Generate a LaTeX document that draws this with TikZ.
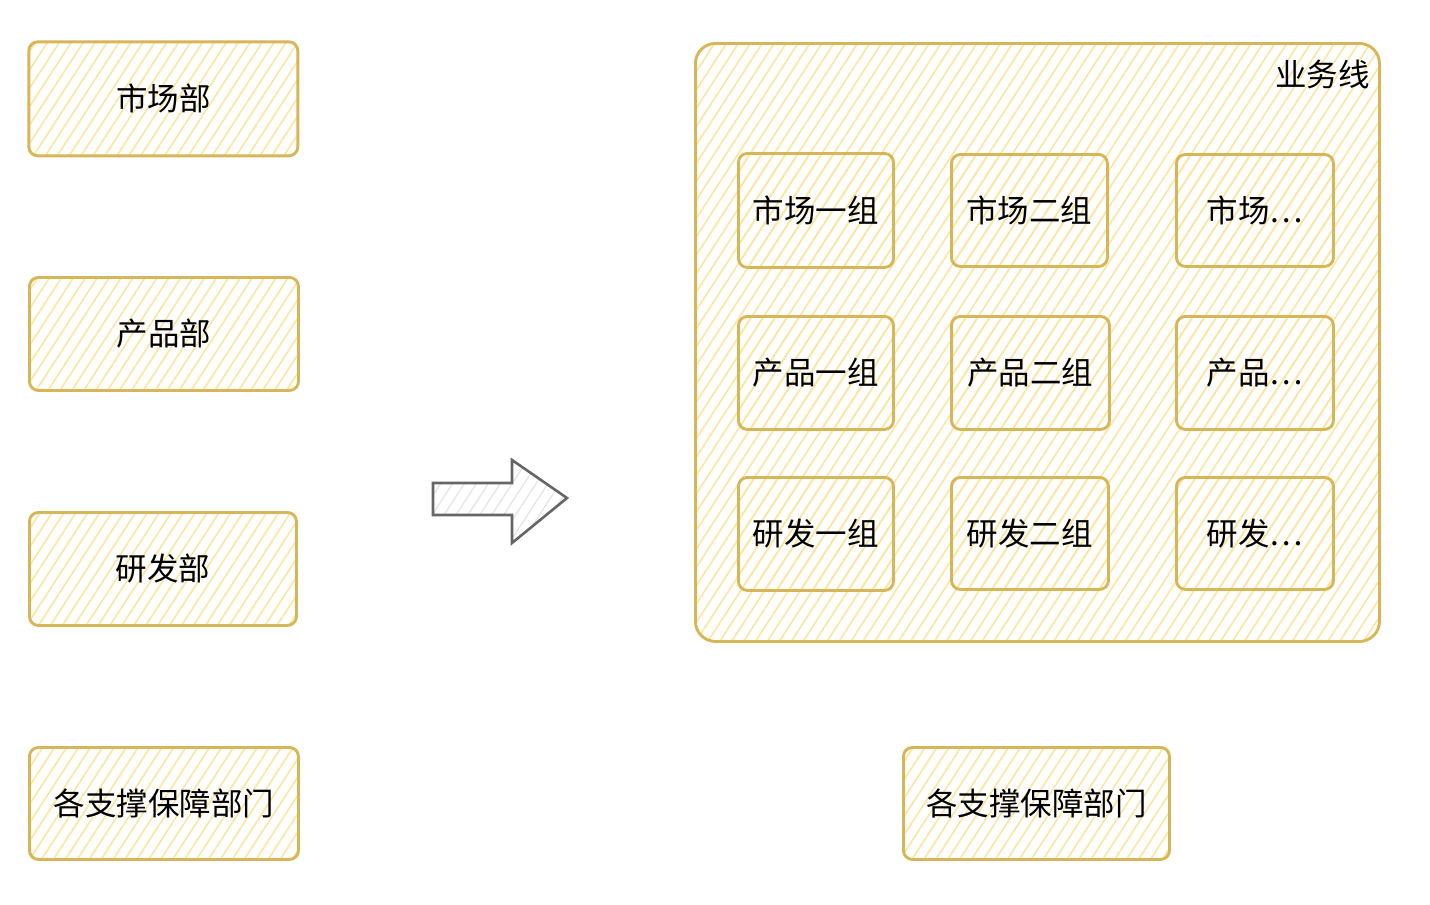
\documentclass[tikz,border=0pt]{standalone}
\usepackage{fontspec}
\setmainfont{Noto Sans CJK SC}
\usetikzlibrary{patterns.meta}
\definecolor{yfill}{HTML}{FFF2CC}
\definecolor{yhatch}{HTML}{FCE5A0}
\definecolor{ystroke}{HTML}{D6B656}
\definecolor{gstroke}{HTML}{666666}
\definecolor{ghatch}{HTML}{E6E6E6}
\tikzset{
  sketchbox/.style={draw=ystroke, line width=2.9pt, rounded corners=9pt,
    pattern={Lines[angle=57,distance=10pt,line width=1.6pt]}, pattern color=yhatch,
    font=\fontsize{31.5}{36}\selectfont, text=black, inner sep=0pt, anchor=north west},
  bigbox/.style={draw=ystroke, line width=2.9pt, rounded corners=20pt,
    pattern={Lines[angle=57,distance=10pt,line width=1.6pt]}, pattern color=yhatch,
    inner sep=0pt, anchor=north west},
  lbl/.style={font=\fontsize{31.5}{36}\selectfont, text=black, inner sep=0pt},
  garrow/.style={draw=gstroke, line width=2.6pt, line join=miter,
    pattern={Lines[angle=57,distance=10pt,line width=1.4pt]}, pattern color=ghatch}
}
\newcommand{\bx}[6]{\node[sketchbox, minimum width=#3pt, minimum height=#4pt] (#5) at (#1,#2) {#6};}
\begin{document}
\begin{tikzpicture}[x=1pt,y=-1pt]
\useasboundingbox (0,0) rectangle (1430,905);
% left column
\bx{28}{41}{269}{114}{m}{市场部}
\bx{28}{276}{269}{113}{p}{产品部}
\bx{28}{511}{267}{113}{r}{研发部}
\bx{28}{746}{269}{112}{s}{各支撑保障部门}
% arrow
\coordinate (a1) at (433,483);
\coordinate (a2) at (512,483);
\coordinate (a3) at (512,460);
\coordinate (a4) at (567,498);
\coordinate (a5) at (512,543);
\coordinate (a6) at (512,515);
\coordinate (a7) at (433,515);
\draw[garrow] (a1) -- (a2) -- (a3) -- (a4) -- (a5) -- (a6) -- (a7) -- cycle;
% container
\node[bigbox, minimum width=684pt, minimum height=598pt] (biz) at (694,42) {};
\node[lbl, anchor=north east] (bizl) at (1370,60) {业务线};
% inner grid
\bx{737}{152}{155}{114}{m1}{市场一组}
\bx{950}{153}{156}{112}{m2}{市场二组}
\bx{1175}{153}{157}{112}{m3}{市场…}
\bx{737}{315}{155}{113}{p1}{产品一组}
\bx{950}{315}{158}{113}{p2}{产品二组}
\bx{1175}{315}{157}{113}{p3}{产品…}
\bx{737}{476}{155}{113}{r1}{研发一组}
\bx{950}{476}{157}{112}{r2}{研发二组}
\bx{1175}{476}{157}{112}{r3}{研发…}
% bottom
\bx{902}{746}{266}{112}{s2}{各支撑保障部门}
\end{tikzpicture}
\end{document}
